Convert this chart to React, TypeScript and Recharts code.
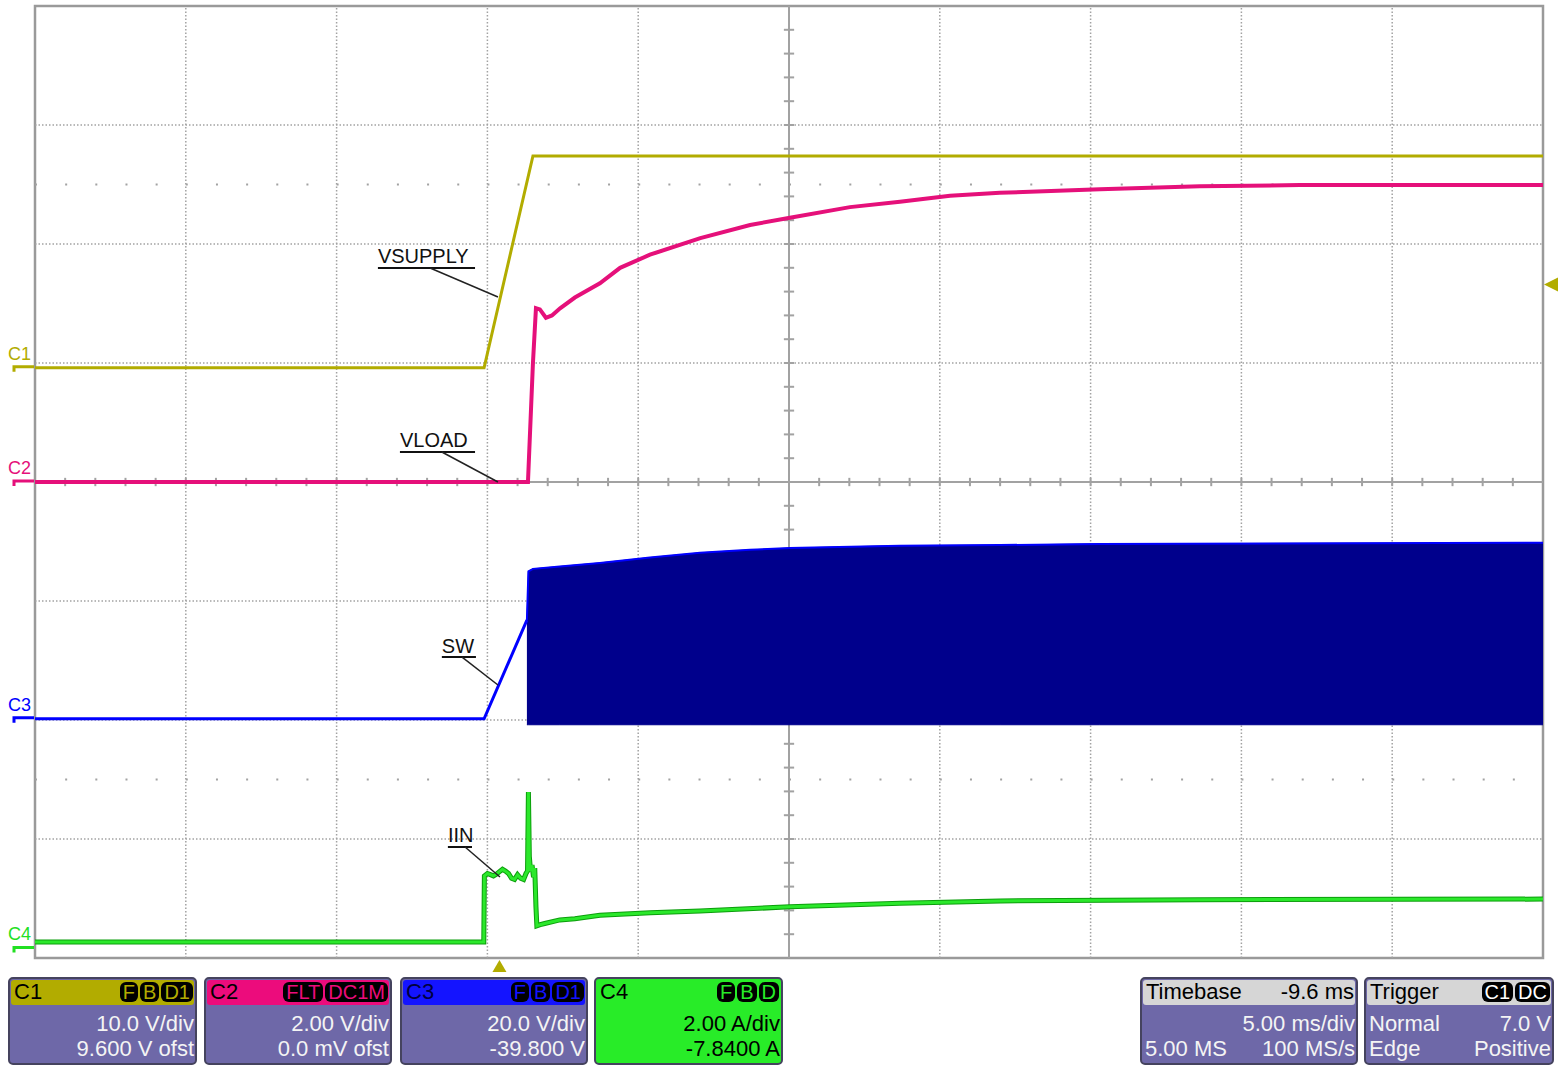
import React from 'react';
import {
  ComposedChart,
  Line,
  Area,
  XAxis,
  YAxis,
  ReferenceLine,
  ReferenceDot,
  ReferenceArea,
} from 'recharts';

// ---------- acquisition settings ----------
const T_START = -15.4; // ms (left edge of screen, relative to trigger)
const T_END = 34.6; // ms
const CENTER_T = 9.6; // ms
const MS_PER_DIV = 5;

const C1_SCALE = 10; // V/div
const C1_OFFSET = 9.6; // V
const C2_SCALE = 2;
const C2_OFFSET = 0;
const C3_SCALE = 20;
const C3_OFFSET = -39.8;
const C4_SCALE = 2; // A/div
const C4_OFFSET = -7.84;
const TRIGGER_LEVEL = 7.0; // V on C1

// ---------- traces ----------
// C1 : VSUPPLY (V)
const vsupplyT = [-15.4, -0.51, 1.11, 34.6];
const vsupplyV = [0, 0, 17.8, 17.8];

// C2 : VLOAD (V)
const vloadT = [-15.4, 0.945, 1.11, 1.21, 1.34, 1.54, 1.74, 2.01, 2.5, 3.33, 4.0, 4.99, 6.66, 8.31, 9.63, 11.62, 13.28, 14.94, 16.59, 19.91, 23.22, 26.54, 34.6];
const vloadV = [0, 0, 2.0, 2.92, 2.9, 2.76, 2.8, 2.92, 3.1, 3.34, 3.6, 3.82, 4.1, 4.32, 4.44, 4.62, 4.71, 4.81, 4.86, 4.92, 4.97, 4.99, 4.99];

// C3 : SW (V) ramp before switching starts
const swT = [-15.4, -0.51, 0.91];
const swV = [0, 0, 16.6];
// C3 : SW switching envelope
const swBlockT = [0.91, 0.96, 1.11, 2.0, 3.33, 4.99, 6.65, 8.31, 9.63, 13.28, 16.6, 19.9, 34.6];
const swBlockHi = [16.6, 24.8, 25.2, 25.6, 26.2, 27.1, 27.9, 28.4, 28.7, 29.1, 29.2, 29.4, 29.6];
const swBlockLo = [-1.0, -1.0, -1.0, -1.0, -1.0, -1.0, -1.0, -1.0, -1.0, -1.0, -1.0, -1.0, -1.0];

// C4 : IIN (A)
const iinT = [-15.4, -0.52, -0.5, -0.4, -0.3, -0.2, -0.1, 0.02, 0.1, 0.2, 0.3, 0.4, 0.5, 0.6, 0.7, 0.8, 0.88, 0.93, 0.96, 0.99, 1.03, 1.08, 1.13, 1.17, 1.21, 1.24, 1.35, 1.5, 2.0, 2.5, 3.33, 5.0, 6.65, 9.63, 13.28, 16.6, 23.2, 34.6];
const iinA = [0.11, 0.11, 1.22, 1.26, 1.24, 1.22, 1.25, 1.3, 1.33, 1.3, 1.26, 1.18, 1.16, 1.24, 1.18, 1.16, 1.26, 1.3, 2.63, 1.55, 1.3, 1.4, 1.2, 1.35, 0.7, 0.38, 0.4, 0.42, 0.48, 0.5, 0.56, 0.6, 0.63, 0.7, 0.76, 0.8, 0.82, 0.83];

// ---------- annotations (time ms, vertical position in divisions) ----------
const noteLabels = ['VSUPPLY', 'VLOAD', 'SW', 'IIN'];
const noteT = [-4.03, -3.3, -1.91, -1.71];
const noteEndT = [-0.81, -0.81, -0.78, -0.91];
const noteTextDiv = [1.84, 0.294, -1.437, -3.025];
const noteLineDiv = [1.798, 0.252, -1.471, -3.067];
const leaderStartT = [-2.3, -1.91, -1.24, -1.14];
const leaderEndT = [-0.05, -0.05, -0.05, 0.017];
const leaderEndDiv = [1.555, 0, -1.706, -3.319];

// ---------- colors ----------
const OLIVE = '#B2AC00';
const PINK = '#E5107A';
const BLUE = '#0000FF';
const NAVY = '#00008C';
const GREEN = '#2BE82B';
const DKGREEN = '#0C9E0C';
const GRID = '#A2A2A2';
const FONT = "'Liberation Sans', Arial, Helvetica, sans-serif";

const W = 1563;
const H = 1068;
const MARGIN = { top: 6, left: 35, right: 20, bottom: 110 };

const zip = (ts: number[], vs: number[]) => ts.map((t, i) => ({ t, v: vs[i] }));
const domainOf = (scale: number, offset: number): [number, number] => [-4 * scale - offset, 4 * scale - offset];

const c1Data = zip(vsupplyT, vsupplyV);
const c2Data = zip(vloadT, vloadV);
const c3Data = zip(swT, swV);
const c3Block = swBlockT.map((t, i) => ({ t, r: [swBlockLo[i], swBlockHi[i]] }));
const c3Top = zip(swBlockT, swBlockHi);
const c4Data = zip(iinT, iinA);

const vGrid: number[] = [];
for (let k = 1; k < 10; k++) if (k !== 5) vGrid.push(T_START + k * MS_PER_DIV);
const hGrid = [-3, -2, -1, 1, 2, 3];
const hTicks: number[] = [];
for (let k = 1; k < 50; k++) if (k !== 25) hTicks.push(T_START + (k * MS_PER_DIV) / 5);
const vTicks: number[] = [];
for (let k = 1; k < 40; k++) if (k !== 20) vTicks.push(-4 + k * 0.2);

const groundMarker = (color: string, label: string) => (props: any) => {
  const { cx, cy } = props;
  return (
    <g>
      <text x={cx - 27} y={cy - 8} fill={color} fontSize={18} fontFamily={FONT}>
        {label}
      </text>
      <path d={`M${cx - 21},${cy + 4} L${cx - 21},${cy - 1} L${cx - 1},${cy - 1}`} stroke={color} strokeWidth={3} fill="none" />
    </g>
  );
};

const triggerPosMarker = (props: any) => {
  const { cx, cy } = props;
  return <path d={`M${cx},${cy + 2} L${cx - 7},${cy + 14} L${cx + 7},${cy + 14} Z`} fill={OLIVE} />;
};

const triggerLevelMarker = (props: any) => {
  const { cx, cy } = props;
  return <path d={`M${cx + 1},${cy} L${cx + 15},${cy - 7} L${cx + 15},${cy + 7} Z`} fill={OLIVE} />;
};

const noteText = (label: string) => (props: any) => {
  const { cx, cy } = props;
  return (
    <text x={cx} y={cy} fill="#111" fontSize={20} fontFamily={FONT}>
      {label}
    </text>
  );
};

// ---------- info boxes ----------
const BODY = '#6E68A8';
const BORDER = '#45435E';
const BODY_TEXT = '#F4F4F4';

type BoxProps = {
  left: number;
  width: number;
  headerBg: string;
  bodyBg: string;
  title: string;
  titleColor: string;
  headerRight?: string;
  badges?: string[];
  badgeText?: string;
  rows: [string, string][];
  textColor: string;
};

function InfoBox(p: BoxProps) {
  return (
    <div
      style={{
        position: 'absolute',
        left: p.left,
        top: 977,
        width: p.width,
        height: 88,
        boxSizing: 'border-box',
        border: `2px solid ${BORDER}`,
        borderRadius: 5,
        background: p.bodyBg,
        fontFamily: FONT,
        fontSize: 22,
        lineHeight: '22px',
        whiteSpace: 'nowrap',
      }}
    >
      <div
        style={{
          position: 'absolute',
          left: 1,
          right: 1,
          top: 1,
          height: 25,
          background: p.headerBg,
          borderRadius: 3,
        }}
      >
        <div style={{ position: 'absolute', left: 3, top: 1.4, color: p.titleColor }}>{p.title}</div>
        {p.headerRight ? (
          <div style={{ position: 'absolute', right: 1, top: 1.4, color: '#000' }}>{p.headerRight}</div>
        ) : null}
        {p.badges ? (
          <div style={{ position: 'absolute', right: 1, top: 2, display: 'flex', gap: 2 }}>
            {p.badges.map((b) => (
              <div
                key={b}
                style={{
                  background: '#000',
                  color: p.badgeText,
                  borderRadius: 6,
                  height: 20,
                  lineHeight: '20px',
                  fontSize: 20,
                  padding: '0 3px',
                }}
              >
                {b}
              </div>
            ))}
          </div>
        ) : null}
      </div>
      {p.rows.map((r, i) => (
        <div key={i}>
          {r[0] ? (
            <div style={{ position: 'absolute', left: 3, top: 34.4 + i * 25, color: p.textColor }}>{r[0]}</div>
          ) : null}
          <div style={{ position: 'absolute', right: 1, top: 34.4 + i * 25, color: p.textColor }}>{r[1]}</div>
        </div>
      ))}
    </div>
  );
}

// Shared hidden axes for both layers
const axes = [
  <XAxis key="xt" xAxisId="t" type="number" dataKey="t" domain={[T_START, T_END]} allowDataOverflow hide />,
  <YAxis key="yd" yAxisId="div" type="number" domain={[-4, 4]} allowDataOverflow hide />,
  <YAxis key="y1" yAxisId="c1" type="number" domain={domainOf(C1_SCALE, C1_OFFSET)} allowDataOverflow hide />,
  <YAxis key="y2" yAxisId="c2" type="number" domain={domainOf(C2_SCALE, C2_OFFSET)} allowDataOverflow hide />,
  <YAxis key="y3" yAxisId="c3" type="number" domain={domainOf(C3_SCALE, C3_OFFSET)} allowDataOverflow hide />,
  <YAxis key="y4" yAxisId="c4" type="number" domain={domainOf(C4_SCALE, C4_OFFSET)} allowDataOverflow hide />,
];

export default function App() {
  return (
    <div
      style={{
        position: 'absolute',
        left: 0,
        top: 0,
        width: W,
        height: H,
        background: '#fff',
        overflow: 'hidden',
        fontFamily: FONT,
      }}
    >
      {/* graticule layer (behind traces) */}
      <div style={{ position: 'absolute', left: 0, top: 0 }}>
        <ComposedChart width={W} height={H} margin={MARGIN} data={[{ t: T_START }, { t: T_END }]}>
          {axes}
          {vGrid.map((t) => (
            <ReferenceLine key={'vg' + t} x={t} xAxisId="t" yAxisId="div" stroke={GRID} strokeWidth={1.5} strokeDasharray="1.5 2" />
          ))}
          {hGrid.map((d) => (
            <ReferenceLine key={'hg' + d} y={d} xAxisId="t" yAxisId="div" stroke={GRID} strokeWidth={1.5} strokeDasharray="1.5 2" />
          ))}
          {[-2.5, 2.5].map((d) => (
            <ReferenceLine key={'dr' + d} y={d} xAxisId="t" yAxisId="div" stroke={GRID} strokeWidth={2} strokeDasharray="2 28.16" />
          ))}
          <ReferenceLine x={CENTER_T} xAxisId="t" yAxisId="div" stroke={GRID} strokeWidth={2} />
          <ReferenceLine y={0} xAxisId="t" yAxisId="div" stroke={GRID} strokeWidth={2} />
          {hTicks.map((t) => (
            <ReferenceLine
              key={'ht' + t}
              xAxisId="t"
              yAxisId="div"
              segment={[
                { x: t, y: -0.035 },
                { x: t, y: 0.035 },
              ]}
              stroke={GRID}
              strokeWidth={2}
            />
          ))}
          {vTicks.map((d) => (
            <ReferenceLine
              key={'vt' + d}
              xAxisId="t"
              yAxisId="div"
              segment={[
                { x: CENTER_T - 0.17, y: d },
                { x: CENTER_T + 0.17, y: d },
              ]}
              stroke={GRID}
              strokeWidth={2}
            />
          ))}
          <ReferenceArea
            xAxisId="t"
            yAxisId="div"
            x1={T_START}
            x2={T_END}
            y1={-4}
            y2={4}
            fill="none"
            fillOpacity={0}
            stroke="#9A9A9A"
            strokeWidth={2.5}
            ifOverflow="visible"
          />
        </ComposedChart>
      </div>

      {/* traces layer */}
      <div style={{ position: 'absolute', left: 0, top: 0 }}>
        <ComposedChart width={W} height={H} margin={MARGIN}>
          {axes}
          <Line data={c1Data} dataKey="v" xAxisId="t" yAxisId="c1" type="linear" stroke={OLIVE} strokeWidth={3} dot={false} isAnimationActive={false} />
          <Line data={c2Data} dataKey="v" xAxisId="t" yAxisId="c2" type="linear" stroke={PINK} strokeWidth={4} dot={false} isAnimationActive={false} />
          <Area data={c3Block} dataKey="r" xAxisId="t" yAxisId="c3" type="linear" stroke={NAVY} strokeWidth={1} fill={NAVY} fillOpacity={1} dot={false} isAnimationActive={false} />
          <Line data={c3Top} dataKey="v" xAxisId="t" yAxisId="c3" type="linear" stroke={BLUE} strokeWidth={2} dot={false} isAnimationActive={false} />
          <Line data={c3Data} dataKey="v" xAxisId="t" yAxisId="c3" type="linear" stroke={BLUE} strokeWidth={3} dot={false} isAnimationActive={false} />
          <Line data={c4Data} dataKey="v" xAxisId="t" yAxisId="c4" type="linear" stroke={DKGREEN} strokeWidth={5} dot={false} isAnimationActive={false} />
          <Line data={c4Data} dataKey="v" xAxisId="t" yAxisId="c4" type="linear" stroke={GREEN} strokeWidth={3} dot={false} isAnimationActive={false} />

          {/* ground markers */}
          <ReferenceDot x={T_START} y={0} xAxisId="t" yAxisId="c1" ifOverflow="visible" shape={groundMarker(OLIVE, 'C1')} />
          <ReferenceDot x={T_START} y={0} xAxisId="t" yAxisId="c2" ifOverflow="visible" shape={groundMarker(PINK, 'C2')} />
          <ReferenceDot x={T_START} y={0} xAxisId="t" yAxisId="c3" ifOverflow="visible" shape={groundMarker(BLUE, 'C3')} />
          <ReferenceDot x={T_START} y={0} xAxisId="t" yAxisId="c4" ifOverflow="visible" shape={groundMarker('#22E022', 'C4')} />

          {/* trigger markers */}
          <ReferenceDot x={0} y={-4} xAxisId="t" yAxisId="div" ifOverflow="visible" shape={triggerPosMarker} />
          <ReferenceDot x={T_END} y={TRIGGER_LEVEL} xAxisId="t" yAxisId="c1" ifOverflow="visible" shape={triggerLevelMarker} />

          {/* annotations */}
          {noteLabels.map((label, i) => (
            <ReferenceLine
              key={'ul' + label}
              xAxisId="t"
              yAxisId="div"
              segment={[
                { x: noteT[i], y: noteLineDiv[i] },
                { x: noteEndT[i], y: noteLineDiv[i] },
              ]}
              stroke="#111"
              strokeWidth={2}
            />
          ))}
          {noteLabels.map((label, i) => (
            <ReferenceLine
              key={'ld' + label}
              xAxisId="t"
              yAxisId="div"
              segment={[
                { x: leaderStartT[i], y: noteLineDiv[i] },
                { x: leaderEndT[i], y: leaderEndDiv[i] },
              ]}
              stroke="#222"
              strokeWidth={1.5}
            />
          ))}
          {noteLabels.map((label, i) => (
            <ReferenceDot key={'tx' + label} x={noteT[i]} y={noteTextDiv[i]} xAxisId="t" yAxisId="div" ifOverflow="visible" shape={noteText(label)} />
          ))}
        </ComposedChart>
      </div>

      <InfoBox left={8} width={189} headerBg={OLIVE} bodyBg={BODY} title="C1" titleColor="#000" badges={['F', 'B', 'D1']} badgeText={OLIVE} rows={[['', '10.0 V/div'], ['', '9.600 V ofst']]} textColor={BODY_TEXT} />
      <InfoBox left={204} width={188} headerBg="#EC0C7C" bodyBg={BODY} title="C2" titleColor="#000" badges={['FLT', 'DC1M']} badgeText="#EC0C7C" rows={[['', '2.00 V/div'], ['', '0.0 mV ofst']]} textColor={BODY_TEXT} />
      <InfoBox left={400} width={188} headerBg="#1414FF" bodyBg={BODY} title="C3" titleColor="#000040" badges={['F', 'B', 'D1']} badgeText="#1414FF" rows={[['', '20.0 V/div'], ['', '-39.800 V']]} textColor={BODY_TEXT} />
      <InfoBox left={594} width={189} headerBg="#28EC28" bodyBg="#28EC28" title="C4" titleColor="#000" badges={['F', 'B', 'D']} badgeText="#28EC28" rows={[['', '2.00 A/div'], ['', '-7.8400 A']]} textColor="#000" />
      <InfoBox left={1140} width={218} headerBg="#D6D6D6" bodyBg={BODY} title="Timebase" titleColor="#000" headerRight="-9.6 ms" rows={[['', '5.00 ms/div'], ['5.00 MS', '100 MS/s']]} textColor={BODY_TEXT} />
      <InfoBox left={1364} width={190} headerBg="#D6D6D6" bodyBg={BODY} title="Trigger" titleColor="#000" badges={['C1', 'DC']} badgeText="#FFFFFF" rows={[['Normal', '7.0 V'], ['Edge', 'Positive']]} textColor={BODY_TEXT} />
    </div>
  );
}
